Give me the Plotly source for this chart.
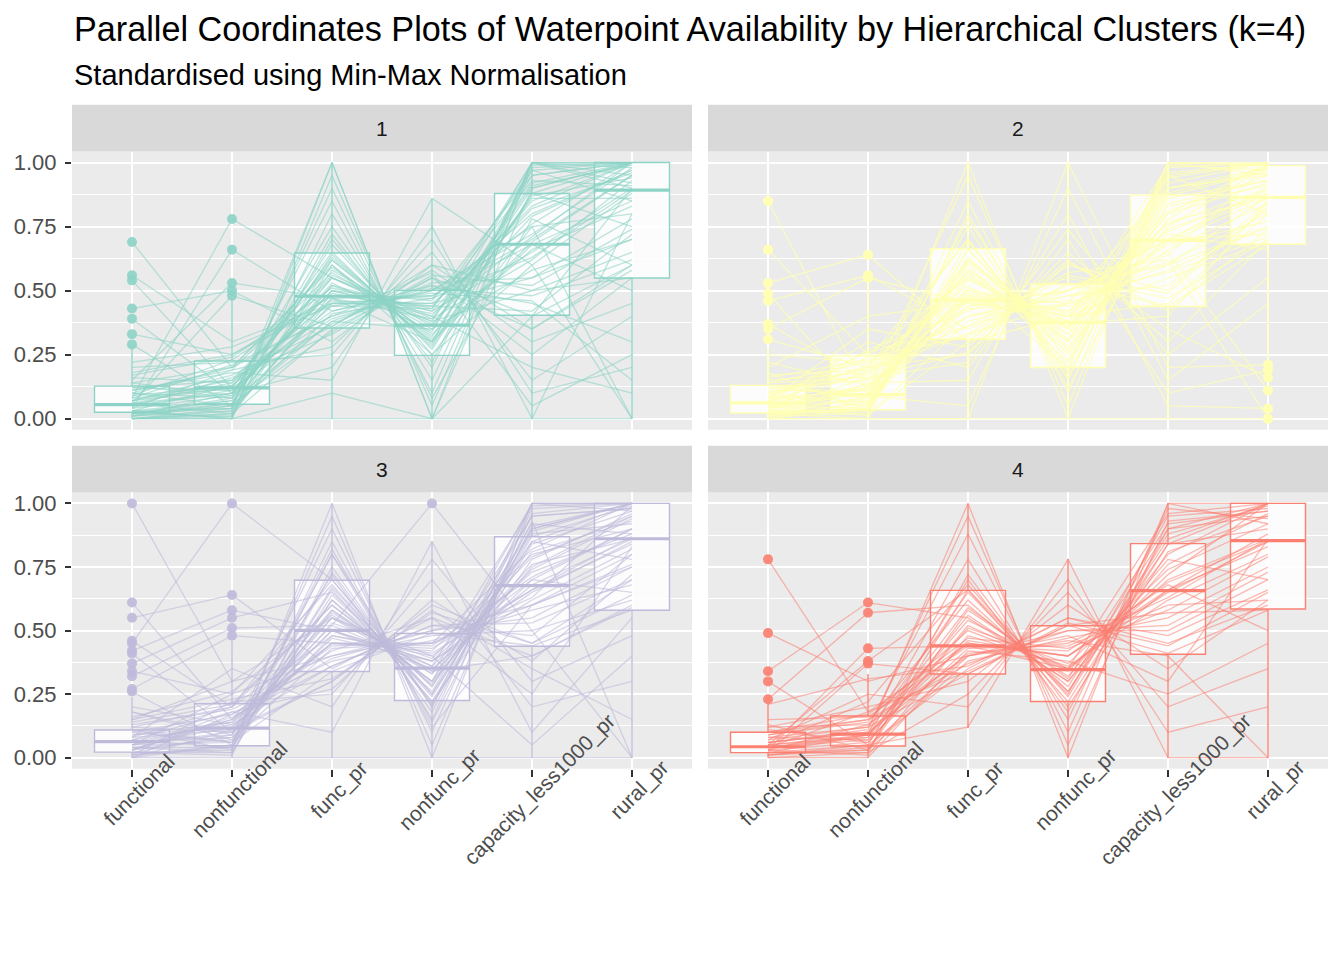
import plotly.graph_objects as go

W, H = 1344, 960
OFF = 8  # page body margin of the browser

variables = ["functional", "nonfunctional", "func_pr", "nonfunc_pr",
             "capacity_less1000_pr", "rural_pr"]
cluster_labels = ["1", "2", "3", "4"]
cluster_colors = ["#8DD3C7", "#FFFFB3", "#BEBADA", "#FB8072"]
line_rgba = ["rgba(141,211,199,0.6)", "rgba(255,255,179,0.7)",
             "rgba(190,186,218,0.6)", "rgba(251,128,114,0.55)"]
point_rgba = ["rgba(141,211,199,0.92)", "rgba(255,255,179,0.97)",
              "rgba(190,186,218,0.92)", "rgba(251,128,114,0.92)"]

# ---- line data (functional, nonfunctional, func_pr, nonfunc_pr, capacity_less1000_pr, rural_pr)
c1_lines = [
    [0.02, 0.05, 0.45, 0.48, 0.70, 0.95], [0.05, 0.10, 0.50, 0.40, 0.85, 1.00],
    [0.00, 0.02, 0.35, 0.55, 0.40, 0.60], [0.10, 0.20, 0.60, 0.30, 0.95, 1.00],
    [0.03, 0.00, 1.00, 0.00, 1.00, 1.00], [0.01, 0.03, 0.70, 0.25, 0.60, 0.88],
    [0.12, 0.15, 0.55, 0.38, 1.00, 0.92], [0.00, 0.00, 0.00, 0.00, 0.00, 0.00],
    [0.69, 0.20, 0.40, 0.50, 0.75, 0.80], [0.56, 0.30, 0.45, 0.45, 0.55, 0.70],
    [0.54, 0.12, 0.62, 0.32, 0.90, 1.00], [0.43, 0.50, 0.30, 0.60, 0.50, 0.55],
    [0.39, 0.10, 0.50, 0.42, 0.65, 0.90], [0.33, 0.25, 0.48, 0.47, 0.80, 0.97],
    [0.29, 0.05, 0.38, 0.52, 0.45, 0.30], [0.08, 0.78, 0.55, 0.40, 0.20, 0.10],
    [0.04, 0.66, 0.42, 0.52, 0.35, 0.60], [0.15, 0.53, 0.47, 0.48, 0.68, 0.85],
    [0.06, 0.48, 0.36, 0.58, 0.30, 0.45], [0.02, 0.08, 0.85, 0.10, 1.00, 1.00],
    [0.00, 0.01, 0.95, 0.05, 0.98, 1.00], [0.07, 0.12, 0.65, 0.28, 0.88, 0.75],
    [0.20, 0.22, 0.25, 0.70, 0.10, 0.20], [0.11, 0.18, 0.15, 0.86, 0.60, 0.00],
    [0.03, 0.04, 0.58, 0.36, 0.92, 1.00], [0.09, 0.13, 0.42, 0.50, 0.72, 0.98],
    [0.01, 0.06, 0.52, 0.38, 0.50, 0.65], [0.14, 0.09, 0.75, 0.20, 1.00, 0.95],
    [0.05, 0.16, 0.33, 0.55, 0.25, 0.55], [0.00, 0.00, 0.10, 0.00, 0.40, 0.90],
    [0.18, 0.25, 0.45, 0.44, 0.83, 1.00], [0.06, 0.02, 0.62, 0.30, 0.97, 0.85],
    [0.02, 0.07, 0.38, 0.35, 0.58, 0.70], [0.10, 0.05, 0.90, 0.08, 0.78, 0.60],
    [0.04, 0.19, 0.28, 0.65, 0.15, 0.40], [0.12, 0.11, 0.50, 0.46, 0.95, 1.00],
    [0.00, 0.03, 0.47, 0.30, 0.68, 0.50], [0.08, 0.21, 0.40, 0.57, 0.05, 0.25],
    [0.03, 0.00, 0.80, 0.15, 1.00, 0.98], [0.16, 0.14, 0.56, 0.39, 0.62, 0.93],
    [0.01, 0.10, 0.20, 0.75, 0.00, 0.80], [0.05, 0.06, 0.68, 0.27, 0.88, 1.00],
    [0.22, 0.28, 0.44, 0.49, 0.46, 0.15], [0.00, 0.04, 1.00, 0.00, 0.90, 1.00],
    [0.07, 0.17, 0.36, 0.60, 0.35, 0.58], [0.13, 0.08, 0.53, 0.34, 1.00, 0.90],
    [0.02, 0.01, 0.60, 0.25, 0.75, 0.00], [0.09, 0.23, 0.48, 0.44, 0.42, 0.72],
    [0.04, 0.09, 0.52, 0.42, 0.82, 0.96], [0.06, 0.14, 0.46, 0.45, 0.76, 1.00],
    [0.02, 0.04, 0.41, 0.47, 0.63, 0.89], [0.11, 0.19, 0.57, 0.35, 0.91, 0.99],
    [0.03, 0.07, 0.64, 0.29, 0.87, 0.94], [0.08, 0.12, 0.37, 0.53, 0.55, 0.78],
    [0.00, 0.02, 0.49, 0.41, 0.71, 1.00], [0.05, 0.11, 0.44, 0.43, 0.93, 0.91],
    [0.14, 0.20, 0.59, 0.33, 0.66, 0.83], [0.01, 0.05, 0.72, 0.22, 0.99, 1.00],
    [0.07, 0.15, 0.39, 0.51, 0.48, 0.62], [0.10, 0.08, 0.55, 0.37, 0.79, 0.97],
    [0.03, 0.13, 0.47, 0.39, 0.86, 0.86], [0.17, 0.24, 0.51, 0.43, 0.97, 1.00],
    [0.02, 0.06, 0.34, 0.56, 0.52, 0.74], [0.06, 0.10, 0.63, 0.31, 0.69, 0.95],
]
c2_lines = [
    [0.85, 0.10, 0.40, 0.50, 0.70, 0.90], [0.66, 0.25, 0.55, 0.35, 0.80, 1.00],
    [0.53, 0.64, 0.30, 0.60, 0.50, 0.85], [0.49, 0.05, 0.48, 0.45, 0.90, 0.95],
    [0.46, 0.56, 0.35, 0.52, 0.60, 0.75], [0.37, 0.15, 0.62, 0.30, 0.75, 0.99],
    [0.35, 0.55, 0.45, 0.40, 0.45, 0.80], [0.31, 0.20, 0.25, 0.65, 0.30, 0.70],
    [0.02, 0.04, 1.00, 0.00, 1.00, 1.00], [0.05, 0.10, 0.50, 0.40, 0.70, 0.88],
    [0.00, 0.00, 0.00, 1.00, 0.20, 0.21], [0.10, 0.20, 0.70, 0.20, 0.95, 1.00],
    [0.03, 0.03, 0.66, 0.25, 0.87, 0.97], [0.08, 0.24, 0.32, 0.53, 0.44, 0.68],
    [0.12, 0.09, 0.46, 0.38, 0.69, 0.86], [0.01, 0.02, 0.85, 0.10, 1.00, 0.99],
    [0.06, 0.30, 0.20, 0.70, 0.10, 0.19], [0.04, 0.12, 0.55, 0.33, 0.80, 0.92],
    [0.00, 0.00, 0.00, 0.00, 0.00, 0.00], [0.15, 0.18, 0.40, 0.45, 0.58, 0.75],
    [0.02, 0.06, 0.60, 0.22, 0.92, 1.00], [0.07, 0.35, 0.28, 0.62, 0.35, 0.16],
    [0.20, 0.40, 0.45, 0.50, 0.65, 0.11], [0.13, 0.08, 0.75, 0.15, 1.00, 0.95],
    [0.05, 0.01, 0.38, 0.48, 0.52, 0.82], [0.25, 0.22, 0.50, 0.42, 0.76, 0.90],
    [0.01, 0.14, 0.15, 0.80, 0.05, 0.04], [0.09, 0.05, 0.58, 0.30, 0.88, 0.98],
    [0.03, 0.27, 0.42, 0.55, 0.47, 0.70], [0.11, 0.11, 0.95, 0.05, 0.98, 1.00],
    [0.04, 0.19, 0.33, 0.45, 0.60, 0.87], [0.18, 0.03, 0.66, 0.28, 0.72, 0.66],
    [0.00, 0.07, 0.47, 0.37, 0.40, 0.85], [0.06, 0.21, 0.52, 0.20, 1.00, 0.99],
    [0.14, 0.16, 0.22, 0.74, 0.25, 0.55], [0.02, 0.00, 0.80, 0.12, 0.84, 0.93],
    [0.08, 0.26, 0.36, 0.57, 0.62, 0.00], [0.05, 0.04, 0.62, 0.33, 0.95, 0.80],
    [0.22, 0.13, 0.44, 0.50, 0.70, 0.72], [0.01, 0.09, 0.05, 0.90, 0.15, 0.45],
    [0.10, 0.17, 0.57, 0.26, 0.78, 1.00], [0.03, 0.02, 0.30, 0.40, 0.55, 0.69],
    [0.16, 0.23, 0.70, 0.18, 0.90, 0.96], [0.07, 0.12, 0.48, 0.36, 0.66, 0.84],
    [0.03, 0.08, 0.51, 0.41, 0.81, 0.95], [0.06, 0.13, 0.44, 0.46, 0.73, 0.89],
    [0.01, 0.05, 0.63, 0.27, 0.90, 0.98], [0.09, 0.20, 0.36, 0.50, 0.61, 0.80],
    [0.04, 0.10, 0.58, 0.35, 0.96, 1.00], [0.12, 0.15, 0.47, 0.42, 0.68, 0.77],
    [0.02, 0.03, 0.69, 0.23, 0.86, 0.93], [0.07, 0.18, 0.40, 0.48, 0.57, 0.71],
    [0.05, 0.07, 0.54, 0.38, 0.99, 0.97], [0.14, 0.22, 0.33, 0.56, 0.49, 0.83],
    [0.00, 0.04, 0.78, 0.16, 0.94, 1.00], [0.08, 0.11, 0.49, 0.40, 0.74, 0.88],
    [0.03, 0.16, 0.26, 0.61, 0.42, 0.74], [0.10, 0.06, 0.61, 0.31, 0.83, 0.91],
    [0.05, 0.12, 0.43, 0.44, 0.64, 0.99], [0.17, 0.19, 0.56, 0.36, 0.77, 0.86],
]
c3_lines = [
    [1.00, 0.30, 0.55, 0.40, 0.70, 0.90], [0.45, 1.00, 0.70, 0.25, 0.85, 1.00],
    [0.61, 0.15, 0.45, 0.45, 0.60, 0.80], [0.55, 0.64, 0.35, 0.55, 0.40, 0.60],
    [0.46, 0.20, 0.60, 0.30, 0.90, 1.00], [0.42, 0.58, 0.50, 0.38, 0.65, 0.85],
    [0.41, 0.10, 0.30, 0.60, 0.45, 0.70], [0.37, 0.55, 0.65, 0.28, 0.95, 0.98],
    [0.34, 0.25, 0.40, 0.50, 0.55, 0.75], [0.32, 0.51, 0.52, 1.00, 0.50, 0.62],
    [0.27, 0.48, 0.45, 0.42, 0.80, 0.90], [0.26, 0.05, 0.80, 0.15, 1.00, 1.00],
    [0.02, 0.03, 1.00, 0.00, 1.00, 1.00], [0.05, 0.12, 0.50, 0.35, 0.68, 0.86],
    [0.00, 0.00, 0.00, 0.00, 0.00, 0.00], [0.08, 0.20, 0.70, 0.22, 0.87, 0.99],
    [0.10, 0.06, 0.34, 0.49, 0.44, 0.58], [0.03, 0.15, 0.58, 0.30, 0.75, 0.95],
    [0.06, 0.09, 0.90, 0.10, 0.98, 1.00], [0.01, 0.22, 0.25, 0.70, 0.20, 0.30],
    [0.12, 0.10, 0.47, 0.38, 0.62, 0.82], [0.04, 0.04, 0.62, 0.26, 0.92, 0.88],
    [0.15, 0.30, 0.40, 0.48, 0.50, 0.00], [0.07, 0.18, 0.10, 0.85, 0.10, 0.55],
    [0.02, 0.01, 0.75, 0.20, 1.00, 0.97], [0.09, 0.14, 0.55, 0.33, 0.70, 0.65],
    [0.18, 0.07, 0.43, 0.45, 0.82, 1.00], [0.00, 0.11, 0.30, 0.58, 0.35, 0.15],
    [0.05, 0.25, 0.68, 0.24, 0.88, 0.92], [0.11, 0.03, 0.85, 0.12, 0.60, 0.75],
    [0.03, 0.16, 0.36, 0.52, 0.48, 0.80], [0.14, 0.21, 0.60, 0.30, 1.00, 1.00],
    [0.06, 0.08, 0.48, 0.40, 0.05, 0.40], [0.20, 0.13, 0.52, 0.36, 0.74, 0.94],
    [0.01, 0.05, 0.95, 0.05, 0.96, 1.00], [0.08, 0.35, 0.20, 0.78, 0.30, 0.48],
    [0.04, 0.02, 0.64, 0.28, 0.85, 0.78], [0.13, 0.19, 0.38, 0.46, 0.58, 0.68],
    [0.02, 0.09, 0.72, 0.18, 0.93, 0.00], [0.09, 0.12, 0.45, 0.43, 0.66, 0.87],
    [0.16, 0.26, 0.56, 0.34, 0.40, 0.59], [0.05, 0.06, 0.80, 0.20, 0.90, 1.00],
    [0.00, 0.17, 0.42, 0.55, 0.25, 0.83], [0.07, 0.04, 0.66, 0.22, 0.78, 0.96],
    [0.03, 0.08, 0.53, 0.39, 0.79, 0.95], [0.06, 0.14, 0.45, 0.44, 0.71, 0.90],
    [0.01, 0.04, 0.67, 0.25, 0.89, 1.00], [0.10, 0.17, 0.39, 0.50, 0.60, 0.76],
    [0.04, 0.07, 0.58, 0.33, 0.95, 0.98], [0.12, 0.20, 0.48, 0.41, 0.66, 0.84],
    [0.02, 0.02, 0.73, 0.21, 0.84, 0.97], [0.07, 0.13, 0.36, 0.52, 0.53, 0.70],
    [0.05, 0.10, 0.55, 0.36, 0.99, 1.00], [0.15, 0.23, 0.31, 0.57, 0.45, 0.64],
    [0.00, 0.05, 0.82, 0.14, 0.91, 1.00], [0.08, 0.11, 0.50, 0.38, 0.73, 0.88],
    [0.03, 0.18, 0.27, 0.62, 0.38, 0.72], [0.11, 0.06, 0.62, 0.29, 0.81, 0.93],
    [0.05, 0.15, 0.44, 0.45, 0.63, 0.99], [0.18, 0.09, 0.57, 0.34, 0.76, 0.86],
]
c4_lines = [
    [0.78, 0.18, 0.45, 0.40, 0.65, 0.85], [0.49, 0.30, 0.40, 0.50, 0.50, 0.70],
    [0.34, 0.61, 0.55, 0.30, 0.80, 1.00], [0.30, 0.05, 0.35, 0.55, 0.45, 0.60],
    [0.23, 0.57, 0.60, 0.28, 0.90, 0.95], [0.03, 0.43, 0.44, 0.35, 0.70, 0.86],
    [0.05, 0.38, 0.66, 0.22, 0.84, 1.00], [0.02, 0.37, 0.33, 0.52, 0.41, 0.58],
    [0.04, 0.09, 1.00, 0.00, 1.00, 1.00], [0.10, 0.15, 0.50, 0.35, 0.66, 0.88],
    [0.01, 0.05, 0.12, 0.78, 0.00, 0.00], [0.06, 0.10, 0.65, 0.25, 0.95, 0.98],
    [0.02, 0.03, 0.38, 0.47, 0.55, 0.75], [0.08, 0.12, 0.88, 0.10, 1.00, 0.92],
    [0.00, 0.00, 0.42, 0.38, 0.25, 0.45], [0.12, 0.20, 0.30, 0.60, 0.35, 0.62],
    [0.04, 0.07, 0.56, 0.30, 0.76, 0.96], [0.15, 0.16, 0.44, 0.42, 0.68, 0.50],
    [0.02, 0.05, 0.70, 0.18, 0.90, 1.00], [0.07, 0.25, 0.20, 0.70, 0.10, 0.20],
    [0.03, 0.01, 0.48, 0.36, 0.62, 0.80], [0.21, 0.31, 0.36, 0.55, 0.48, 0.66],
    [0.05, 0.08, 0.78, 0.15, 0.98, 0.94], [0.01, 0.04, 0.40, 0.46, 0.40, 0.00],
    [0.09, 0.14, 0.62, 0.26, 0.84, 0.90], [0.00, 0.02, 0.25, 0.65, 0.20, 0.35],
    [0.11, 0.06, 0.52, 0.34, 0.72, 1.00], [0.04, 0.18, 0.34, 0.52, 0.57, 0.58],
    [0.06, 0.11, 0.95, 0.05, 0.93, 0.97], [0.02, 0.09, 0.46, 0.40, 0.66, 0.83],
    [0.13, 0.03, 0.58, 0.32, 0.78, 0.70], [0.03, 0.13, 0.40, 0.48, 0.30, 0.86],
    [0.05, 0.22, 0.68, 0.24, 0.88, 0.99], [0.08, 0.07, 0.43, 0.44, 0.60, 0.62],
    [0.03, 0.06, 0.51, 0.37, 0.74, 0.92], [0.06, 0.10, 0.41, 0.45, 0.63, 0.86],
    [0.01, 0.03, 0.66, 0.26, 0.86, 1.00], [0.09, 0.15, 0.37, 0.50, 0.52, 0.73],
    [0.04, 0.08, 0.59, 0.31, 0.92, 0.97], [0.12, 0.13, 0.45, 0.40, 0.69, 0.85],
    [0.02, 0.02, 0.72, 0.20, 0.81, 0.95], [0.07, 0.12, 0.33, 0.53, 0.44, 0.65],
    [0.05, 0.09, 0.54, 0.35, 0.96, 1.00], [0.10, 0.17, 0.47, 0.43, 0.58, 0.79],
]

# ---- boxplot statistics (per variable)
c1_q1 = [0.025, 0.056, 0.354, 0.247, 0.404, 0.549]
c1_med = [0.055, 0.120, 0.478, 0.365, 0.681, 0.892]
c1_q3 = [0.127, 0.225, 0.647, 0.501, 0.879, 1.000]
c1_lo = [0.000, 0.000, 0.000, 0.000, 0.000, 0.000]
c1_hi = [0.280, 0.470, 1.000, 0.860, 1.000, 1.000]

c2_q1 = [0.022, 0.035, 0.310, 0.200, 0.438, 0.681]
c2_med = [0.062, 0.094, 0.463, 0.376, 0.696, 0.864]
c2_q3 = [0.130, 0.245, 0.664, 0.526, 0.873, 0.988]
c2_lo = [0.000, 0.000, 0.000, 0.000, 0.000, 0.230]
c2_hi = [0.280, 0.530, 1.000, 1.000, 1.000, 1.000]

c3_q1 = [0.022, 0.047, 0.339, 0.225, 0.438, 0.580]
c3_med = [0.063, 0.116, 0.501, 0.352, 0.677, 0.861]
c3_q3 = [0.109, 0.212, 0.698, 0.488, 0.869, 1.000]
c3_lo = [0.000, 0.000, 0.000, 0.000, 0.000, 0.000]
c3_hi = [0.240, 0.460, 1.000, 0.851, 1.000, 1.000]

c4_q1 = [0.020, 0.046, 0.329, 0.221, 0.407, 0.585]
c4_med = [0.043, 0.093, 0.440, 0.346, 0.657, 0.854]
c4_q3 = [0.100, 0.164, 0.658, 0.519, 0.842, 1.000]
c4_lo = [0.000, 0.000, 0.116, 0.000, 0.000, 0.000]
c4_hi = [0.214, 0.329, 1.000, 0.782, 1.000, 1.000]

y_ticks = [0.0, 0.25, 0.5, 0.75, 1.0]
y_tick_text = ["0.00", "0.25", "0.50", "0.75", "1.00"]

title_text = "Parallel Coordinates Plots of Waterpoint Availability by Hierarchical Clusters (k=4)"
subtitle_text = "Standardised using Min-Max Normalisation"

clusters = [
    (c1_lines, c1_q1, c1_med, c1_q3, c1_lo, c1_hi),
    (c2_lines, c2_q1, c2_med, c2_q3, c2_lo, c2_hi),
    (c3_lines, c3_q1, c3_med, c3_q3, c3_lo, c3_hi),
    (c4_lines, c4_q1, c4_med, c4_q3, c4_lo, c4_hi),
]

FONT = "Liberation Sans, Arial, sans-serif"


def px(x):
    return (x - OFF) / W


def py(y):
    return 1 - (y - OFF) / H


fig = go.Figure()

for k, (rows, q1, med, q3, lo, hi) in enumerate(clusters):
    xa = "x" if k == 0 else f"x{k+1}"
    ya = "y" if k == 0 else f"y{k+1}"
    col = cluster_colors[k]
    fig.add_trace(go.Box(
        x=variables, q1=q1, median=med, q3=q3, lowerfence=lo, upperfence=hi,
        width=0.75, whiskerwidth=0, boxpoints=False,
        fillcolor="rgba(255,255,255,0.82)", line=dict(color=col, width=1.4),
        xaxis=xa, yaxis=ya, showlegend=False, hoverinfo="skip"))
    fig.add_trace(go.Box(
        x=variables, q1=med, median=med, q3=med, lowerfence=med, upperfence=med,
        width=0.75, whiskerwidth=0, boxpoints=False,
        fillcolor="rgba(0,0,0,0)", line=dict(color=col, width=3.2),
        xaxis=xa, yaxis=ya, showlegend=False, hoverinfo="skip"))
    for row in rows:
        fig.add_trace(go.Scatter(
            x=variables, y=row, mode="lines",
            line=dict(color=line_rgba[k], width=1.3),
            xaxis=xa, yaxis=ya, showlegend=False, hoverinfo="skip"))
    ox, oy = [], []
    for i, v in enumerate(variables):
        for row in rows:
            if row[i] > hi[i] + 1e-9 or row[i] < lo[i] - 1e-9:
                ox.append(v)
                oy.append(row[i])
    fig.add_trace(go.Scatter(
        x=ox, y=oy, mode="markers",
        marker=dict(color=point_rgba[k], size=10, line=dict(width=0)),
        xaxis=xa, yaxis=ya, showlegend=False, hoverinfo="skip"))

xd = [[px(72), px(692)], [px(708), px(1328)]]
yd_top = [py(430), py(151)]
yd_bot = [py(770), py(493)]
panel_dom = [(xd[0], yd_top), (xd[1], yd_top), (xd[0], yd_bot), (xd[1], yd_bot)]

layout_axes = {}
for k, (dx, dy) in enumerate(panel_dom):
    sx = "" if k == 0 else str(k + 1)
    bottom = k >= 2
    left = k in (0, 2)
    layout_axes[f"xaxis{sx}"] = dict(
        domain=dx, anchor=f"y{sx}", type="category",
        categoryorder="array", categoryarray=variables,
        range=[-0.6, 5.6], showgrid=True, gridcolor="white", gridwidth=2.2,
        zeroline=False, showline=False, showticklabels=False,
        ticks="outside" if bottom else "", ticklen=7, tickwidth=2,
        tickcolor="#333333", fixedrange=True)
    layout_axes[f"yaxis{sx}"] = dict(
        domain=dy, anchor=f"x{sx}", range=[-0.043, 1.043],
        tickvals=y_ticks, ticktext=y_tick_text,
        showgrid=True, gridcolor="white", gridwidth=2.2, zeroline=False,
        showline=False, showticklabels=left,
        ticks="outside" if left else "", ticklen=6, tickwidth=2,
        tickcolor="#333333", ticklabelstandoff=4,
        tickfont=dict(family=FONT, size=22, color="#4D4D4D"),
        minor=dict(tickvals=[0.125, 0.375, 0.625, 0.875], showgrid=True,
                   gridcolor="white", gridwidth=1.1, ticks=""),
        fixedrange=True)

shapes = []
annotations = []
strip_y = [(py(151), py(104)), (py(493), py(446))]
for k, (dx, dy) in enumerate(panel_dom):
    sy = strip_y[0] if k < 2 else strip_y[1]
    shapes.append(dict(type="rect", xref="paper", yref="paper",
                       x0=dx[0], x1=dx[1], y0=sy[0], y1=sy[1],
                       fillcolor="#D9D9D9", line=dict(width=0), layer="below"))
    annotations.append(dict(xref="paper", yref="paper",
                            x=(dx[0] + dx[1]) / 2, y=(sy[0] + sy[1]) / 2,
                            text=cluster_labels[k], showarrow=False,
                            xanchor="center", yanchor="middle",
                            font=dict(family=FONT, size=21, color="#1A1A1A")))

for k in (2, 3):
    sx = str(k + 1)
    for v in variables:
        annotations.append(dict(xref=f"x{sx}", yref="paper", x=v, y=py(791),
                                text=v, showarrow=False, textangle=-45,
                                xanchor="center", yanchor="middle", xshift=7,
                                font=dict(family=FONT, size=21, color="#4D4D4D")))

annotations.append(dict(xref="paper", yref="paper", x=px(72), y=py(28),
                        text=title_text, showarrow=False, xanchor="left",
                        yanchor="middle",
                        font=dict(family=FONT, size=34.2, color="black")))
annotations.append(dict(xref="paper", yref="paper", x=px(72), y=py(74),
                        text=subtitle_text, showarrow=False, xanchor="left",
                        yanchor="middle",
                        font=dict(family=FONT, size=29, color="black")))

fig.update_layout(
    width=W, height=H, margin=dict(l=0, r=0, t=0, b=0),
    paper_bgcolor="white", plot_bgcolor="#EBEBEB",
    boxmode="overlay", showlegend=False,
    shapes=shapes, annotations=annotations,
    font=dict(family=FONT), **layout_axes)

fig.write_html("out.html")
